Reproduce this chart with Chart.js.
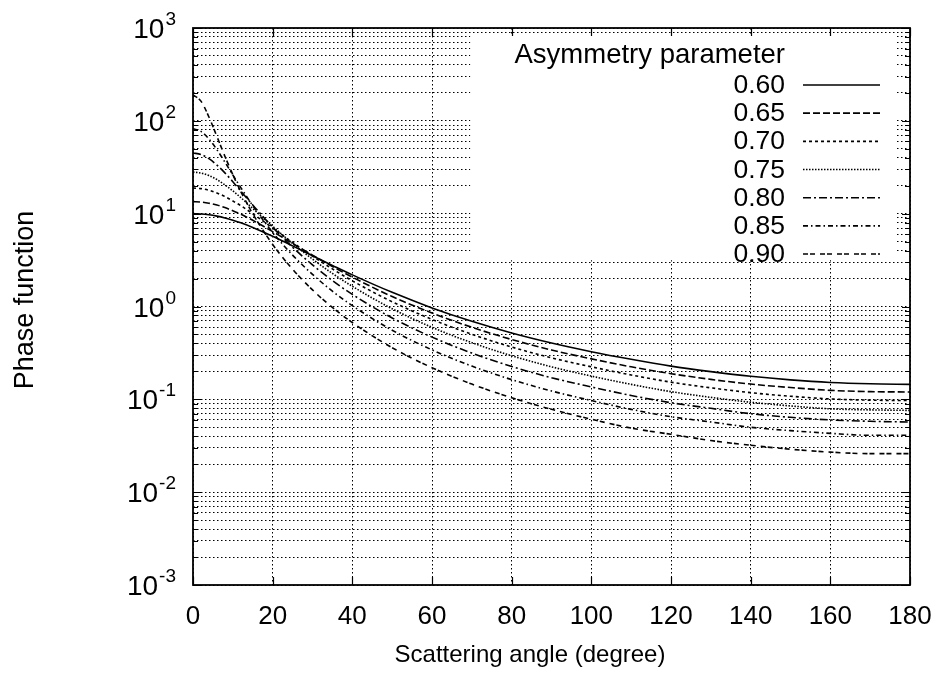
<!DOCTYPE html>
<html><head><meta charset="utf-8">
<script src="https://cdn.jsdelivr.net/npm/chart.js@4.4.1/dist/chart.umd.min.js"></script>
<style>html,body{margin:0;padding:0;background:#fff}#wrap{width:936px;height:677px;position:relative}</style>
</head><body><div id="wrap"><canvas id="c"></canvas></div>
<script>
// ---- data ----
const angles = [0,2,4,6,8,10,12,15,20,25,30,35,40,50,60,70,80,90,100,110,120,130,140,150,160,170,180];
const g060 = [10.0,9.93,9.73,9.41,9.00,8.51,7.96,7.11,5.71,4.50,3.52,2.77,2.19,1.42,0.966,0.692,0.518,0.404,0.326,0.270,0.228,0.199,0.177,0.162,0.152,0.147,0.145];
const g065 = [13.47,13.34,12.96,12.38,11.62,10.76,9.85,8.48,6.41,4.78,3.57,2.70,2.07,1.28,0.851,0.597,0.441,0.340,0.273,0.224,0.189,0.164,0.146,0.134,0.125,0.121,0.120];
const g070 = [18.9,18.6,17.9,16.7,15.3,13.7,12.2,9.98,7.00,4.90,3.49,2.54,1.89,1.125,0.726,0.502,0.366,0.280,0.224,0.183,0.153,0.133,0.118,0.108,0.101,0.098,0.097];
const g075 = [28.0,27.4,25.7,23.3,20.4,17.6,14.9,11.4,7.31,4.78,3.24,2.27,1.65,0.945,0.597,0.407,0.295,0.224,0.178,0.145,0.121,0.105,0.093,0.085,0.079,0.077,0.076];
const g080 = [45.0,43.4,39.1,33.4,27.5,22.1,17.5,12.4,7.14,4.35,2.81,1.90,1.35,0.753,0.468,0.315,0.226,0.171,0.136,0.110,0.092,0.080,0.070,0.064,0.060,0.058,0.057];
const g085 = [82.2,76.9,63.8,48.9,36.0,26.1,19.1,12.2,6.28,3.58,2.22,1.46,1.02,0.555,0.341,0.228,0.163,0.123,0.097,0.078,0.065,0.057,0.050,0.046,0.043,0.041,0.041];
const g090 = [190,163,110,67.9,41.6,26.3,17.3,9.97,4.66,2.52,1.51,0.978,0.671,0.360,0.219,0.146,0.104,0.078,0.061,0.049,0.042,0.036,0.032,0.029,0.027,0.026,0.026];
const seriesLabels = ['0.60','0.65','0.70','0.75','0.80','0.85','0.90'];
const xTicks = [0,20,40,60,80,100,120,140,160,180];
const yExponents = [-3,-2,-1,0,1,2,3];
const yMinorFactors = [2,3,4,5,6,7,8,9];
const legendTitle = 'Asymmetry parameter';
const xTitle = 'Scattering angle (degree)';
const yTitle = 'Phase function';

// ---- styles ----
const series = [g060,g065,g070,g075,g080,g085,g090];
const dashes = [[],[7,3],[3,3],[1.5,1.5],[8,3,2,3],[5,3,1.5,3],[5,2,5,5]];
const FONT = '"Liberation Sans", Arial, Helvetica, sans-serif';

const yGrid = [];
const yMajor = new Set();
yExponents.forEach(e => {
  yGrid.push(Math.pow(10, e));
  yMajor.add(yGrid.length - 1);
  if (e < 3) yMinorFactors.forEach(f => yGrid.push(f * Math.pow(10, e)));
});

const datasets = series.map((vals, i) => ({
  label: seriesLabels[i],
  data: angles.map((a, j) => ({x: a, y: vals[j]})),
  borderColor: '#000',
  borderWidth: 1.6,
  borderDash: dashes[i],
  pointRadius: 0,
  fill: false,
  cubicInterpolationMode: 'monotone'
}));

const decor = {
  id: 'decor',
  beforeDatasetsDraw(chart) {
    const {ctx, scales: {x, y}} = chart;
    const l = x.getPixelForValue(69.6), r = x.getPixelForValue(176.6);
    const t = y.getPixelForValue(850), b = y.getPixelForValue(3.15);
    ctx.save(); ctx.fillStyle = '#fff'; ctx.fillRect(l, t, r - l, b - t); ctx.restore();
  },
  afterDatasetsDraw(chart) {
    const {ctx, chartArea: a, scales: {x, y}} = chart;
    ctx.save();
    ctx.setLineDash([]);
    ctx.strokeStyle = '#000';
    ctx.lineWidth = 1.8;
    ctx.strokeRect(a.left, a.top, a.right - a.left, a.bottom - a.top);
    ctx.lineWidth = 1.2;
    ctx.beginPath();
    xTicks.forEach(v => {
      const px = Math.round(x.getPixelForValue(v)) + 0.5;
      ctx.moveTo(px, a.bottom); ctx.lineTo(px, a.bottom - 8);
      ctx.moveTo(px, a.top); ctx.lineTo(px, a.top + 8);
    });
    yGrid.forEach((v, i) => {
      const py = Math.round(y.getPixelForValue(v)) + 0.5;
      const len = yMajor.has(i) ? 8 : 5;
      ctx.moveTo(a.left, py); ctx.lineTo(a.left + len, py);
      ctx.moveTo(a.right, py); ctx.lineTo(a.right - len, py);
    });
    ctx.stroke();

    // legend
    ctx.fillStyle = '#000';
    ctx.textAlign = 'right';
    ctx.textBaseline = 'alphabetic';
    ctx.font = '27.5px ' + FONT;
    ctx.fillText(legendTitle, 785, 63);
    ctx.font = '26.5px ' + FONT;
    seriesLabels.forEach((lab, i) => {
      const base = 93 + i * 28.17;
      ctx.fillText(lab, 785, base);
      ctx.save();
      ctx.lineWidth = 1.6;
      ctx.setLineDash(dashes[i]);
      ctx.beginPath();
      ctx.moveTo(803, base - 8); ctx.lineTo(880, base - 8);
      ctx.stroke();
      ctx.restore();
    });
    ctx.restore();
  },
  afterDraw(chart) {
    const {ctx, chartArea: a, scales: {x, y}} = chart;
    ctx.save();
    ctx.fillStyle = '#000';
    ctx.textBaseline = 'alphabetic';
    // x tick labels
    ctx.font = '26px ' + FONT;
    ctx.textAlign = 'center';
    xTicks.forEach(v => ctx.fillText(String(v), x.getPixelForValue(v), a.bottom + 39));
    // y tick labels 10^n
    yExponents.forEach(e => {
      const py = y.getPixelForValue(Math.pow(10, e));
      const sup = String(e);
      ctx.font = '19px ' + FONT;
      const we = ctx.measureText(sup).width;
      ctx.textAlign = 'left';
      ctx.fillText(sup, 176 - we, py - 3);
      ctx.font = '28px ' + FONT;
      ctx.textAlign = 'right';
      ctx.fillText('10', 176 - we - 1, py + 10);
    });
    // axis titles
    ctx.font = '24px ' + FONT;
    ctx.textAlign = 'center';
    ctx.fillText(xTitle, 530, 662);
    ctx.save();
    ctx.translate(33, 300);
    ctx.rotate(-Math.PI / 2);
    ctx.font = '27px ' + FONT;
    ctx.fillText(yTitle, 0, 0);
    ctx.restore();
    ctx.restore();
  }
};

new Chart(document.getElementById('c'), {
  type: 'line',
  data: {datasets},
  plugins: [decor],
  options: {
    responsive: true,
    maintainAspectRatio: false,
    animation: false,
    layout: {padding: {left: 193, right: 26, top: 28, bottom: 92}},
    plugins: {legend: {display: false}, tooltip: {enabled: false}},
    scales: {
      x: {
        type: 'linear', min: 0, max: 180,
        afterBuildTicks: s => { s.ticks = xTicks.map(v => ({value: v})); },
        ticks: {display: false},
        grid: {color: '#000', lineWidth: 1, drawTicks: false},
        border: {display: false, dash: [1.5, 2.5]}
      },
      y: {
        type: 'logarithmic', min: 0.001, max: 1000,
        afterBuildTicks: s => { s.ticks = yGrid.map(v => ({value: v})); },
        ticks: {display: false},
        grid: {color: '#000', lineWidth: 1, drawTicks: false},
        border: {display: false, dash: [1.5, 2.5]}
      }
    }
  }
});
</script>
</body></html>
